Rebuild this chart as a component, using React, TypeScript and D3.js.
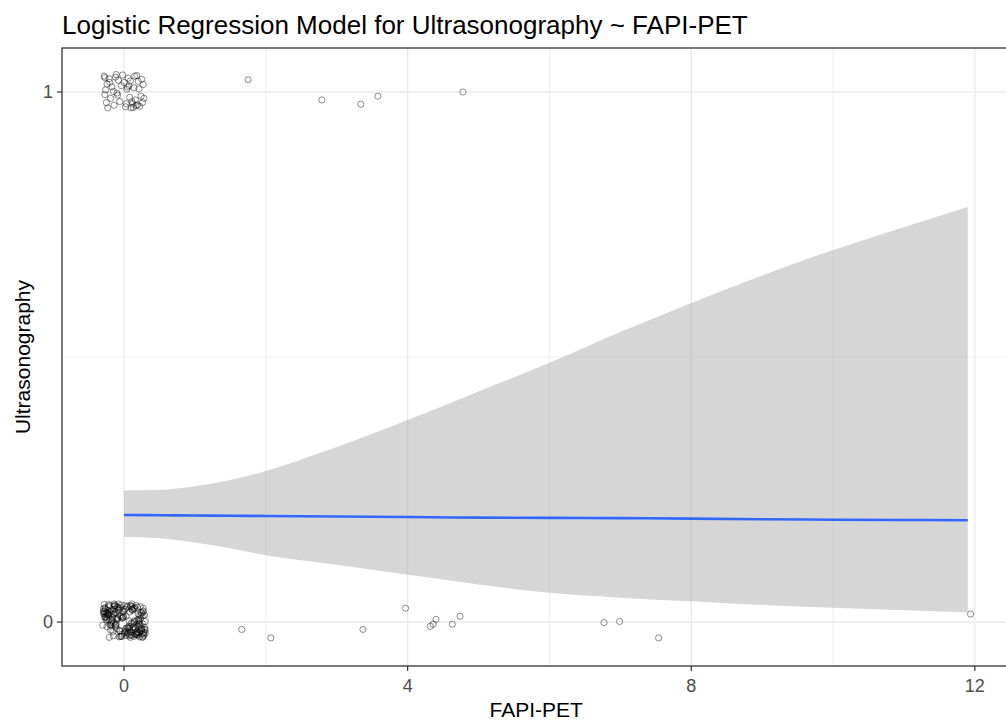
import * as d3 from "d3";
import { useEffect, useRef } from "react";

// fitted curve and 95% band
const fitX = [0, 0.5, 1, 1.5, 2, 3, 4, 5, 6, 7, 8, 9, 10, 11, 11.9];
const fitY = [0.202, 0.2015, 0.201, 0.2005, 0.2, 0.199, 0.198, 0.197, 0.1965, 0.196, 0.195, 0.194, 0.193, 0.1925, 0.192];
const bandUpper = [0.248, 0.249, 0.256, 0.268, 0.285, 0.33, 0.381, 0.435, 0.489, 0.547, 0.602, 0.654, 0.702, 0.745, 0.783];
const bandLower = [0.161, 0.158, 0.15, 0.139, 0.126, 0.108, 0.089, 0.071, 0.055, 0.046, 0.039, 0.032, 0.027, 0.022, 0.018];

// jittered points away from zero
const outX = [1.75, 2.79, 3.34, 3.58, 4.78, 1.66, 2.07, 3.37, 3.97, 4.32, 4.36, 4.4, 4.63, 4.74, 6.77, 6.99, 7.54, 11.94];
const outY = [1.023, 0.985, 0.977, 0.992, 1.0, -0.014, -0.03, -0.014, 0.026, -0.008, -0.004, 0.005, -0.004, 0.011, -0.001, 0.001, -0.03, 0.015];

// jittered cluster at FAPI-PET = 0, Ultrasonography = 1
const topX = [-0.28, -0.24, -0.27, -0.21, -0.25, -0.17, -0.23, -0.12, -0.19, -0.26,
  -0.08, -0.14, -0.04, -0.1, 0.0, -0.06, 0.04, 0.02, 0.08, -0.02,
  0.12, 0.06, 0.16, 0.1, 0.2, 0.14, 0.24, 0.18, 0.27, 0.22,
  0.11, 0.25, -0.15, 0.07, 0.19, -0.2, 0.15, 0.28, -0.09, 0.03,
  0.21, -0.27, 0.13, 0.09, -0.11, 0.26, 0.05, 0.17];
const topDy = [0.03, 0.015, -0.005, 0.025, -0.02, 0.01, -0.03, 0.028, -0.012, 0.004,
  0.022, -0.025, 0.012, -0.002, 0.018, -0.018, 0.005, -0.028, -0.01, 0.032,
  -0.022, 0.026, -0.015, -0.03, 0.02, 0.008, -0.008, 0.031, 0.014, -0.027,
  -0.018, 0.024, 0.001, 0.012, -0.024, 0.018, 0.03, -0.012, -0.006, -0.022,
  0.006, 0.027, -0.029, 0.021, 0.033, -0.02, 0.009, -0.026];

// jittered cluster at FAPI-PET = 0, Ultrasonography = 0
const botX = [-0.29, -0.12, 0.05, 0.21, -0.24, 0.14, -0.03, 0.27, -0.18, 0.09,
  0.01, -0.27, 0.18, -0.08, 0.25, -0.15, 0.11, -0.21, 0.3, -0.05,
  0.07, -0.26, 0.16, -0.1, 0.23, -0.19, 0.03, 0.28, -0.13, 0.12,
  -0.22, 0.19, -0.01, -0.28, 0.08, 0.26, -0.16, 0.15, -0.06, 0.22,
  -0.3, 0.04, -0.2, 0.17, -0.09, 0.29, -0.14, 0.1, -0.25, 0.2,
  0.0, -0.17, 0.24, -0.04, 0.13, -0.23, 0.06, 0.27, -0.11, 0.18,
  -0.27, 0.09, -0.07, 0.21, -0.2, 0.02, 0.25, -0.15, 0.14, -0.02,
  0.3, -0.24, 0.11, -0.12, 0.19, -0.29, 0.05, 0.23, -0.08, 0.16,
  -0.18, 0.26, -0.05, 0.12, -0.26, 0.08, -0.13, 0.2, -0.01, 0.28,
  -0.21, 0.15, -0.1, 0.03, 0.24, -0.16, 0.1, -0.28, 0.17, -0.06,
  0.22, -0.23, 0.07, -0.14, 0.29, -0.03, 0.13, -0.19, 0.01, 0.25,
  -0.25, 0.18, -0.09, 0.06, -0.22, 0.21, -0.04, 0.27, -0.12, 0.11,
  -0.2, 0.08, -0.27, 0.16, -0.04, 0.26, -0.13, 0.03, 0.2, -0.24,
  0.12, -0.07, 0.29, -0.17, 0.05, -0.29, 0.22, -0.1, 0.15, -0.02,
  0.27, -0.19, 0.09, -0.26, 0.18, -0.06, 0.24, -0.14, 0.0, 0.13,
  -0.23, 0.19, -0.11, 0.07, -0.28, 0.25, -0.03, 0.1, -0.16, 0.21,
  -0.08, 0.28, -0.21, 0.04, 0.17, -0.25, 0.14, -0.12, 0.23, -0.01,
  0.06, -0.18, 0.3, -0.09, 0.11, -0.22, 0.2, -0.15, 0.02, 0.26];
const botDy = [0.02, -0.01, 0.03, -0.02, 0.005, 0.025, -0.027, 0.012, -0.005, 0.031,
  -0.018, 0.008, -0.024, 0.022, -0.012, 0.015, 0.034, -0.029, 0.001, 0.027,
  -0.008, 0.018, -0.021, 0.004, 0.029, -0.015, 0.011, -0.026, 0.024, -0.003,
  0.033, -0.02, 0.009, 0.016, -0.011, -0.028, 0.021, 0.002, -0.017, 0.013,
  -0.006, 0.028, 0.019, -0.023, 0.006, -0.014, 0.03, -0.002, 0.017, -0.025,
  0.024, 0.003, -0.016, 0.032, -0.009, 0.014, -0.022, 0.026, 0.007, -0.019,
  0.01, -0.029, 0.023, -0.004, 0.031, -0.013, 0.017, -0.026, 0.0, 0.02,
  -0.021, 0.013, 0.029, -0.007, -0.018, 0.025, -0.011, 0.006, 0.034, -0.024,
  0.016, -0.003, -0.027, 0.022, 0.011, -0.015, 0.03, -0.009, 0.019, -0.02,
  0.004, 0.027, -0.013, -0.025, 0.018, 0.008, -0.019, 0.033, -0.006, 0.012,
  -0.028, 0.021, 0.002, 0.015, -0.01, -0.023, 0.026, -0.001, 0.031, -0.016,
  0.009, -0.022, 0.028, -0.012, 0.014, 0.003, -0.027, 0.019, -0.005, 0.024,
  -0.005, 0.019, 0.027, -0.012, 0.01, -0.022, 0.032, -0.017, 0.005, -0.009,
  0.023, -0.028, 0.013, 0.001, -0.02, 0.016, -0.003, 0.029, -0.014, 0.008,
  0.021, -0.007, -0.024, 0.025, 0.003, -0.016, 0.012, 0.034, -0.021, -0.01,
  0.017, 0.028, -0.004, -0.026, 0.02, -0.013, 0.007, 0.03, -0.018, 0.0,
  0.026, -0.023, 0.014, -0.011, 0.031, 0.004, -0.027, 0.018, -0.008, 0.011,
  -0.019, 0.022, -0.015, 0.009, -0.025, 0.029, 0.015, -0.002, 0.024, -0.029];

const xMajor = [0, 4, 8, 12];
const xMinor = [2, 6, 10];
const yMajor = [0, 1];
const yMinor = [0.5];

const WIDTH = 1006;
const HEIGHT = 725;
const FONT = "'Liberation Sans', Arial, sans-serif";

export default function App() {
  const svgRef = useRef<SVGSVGElement | null>(null);

  useEffect(() => {
    const svg = d3.select(svgRef.current);
    svg.selectAll("*").remove();

    const x = d3.scaleLinear().domain([-0.875, 12.5]).range([62, 1010.3]);
    const y = d3.scaleLinear().domain([-0.083, 1.083]).range([666, 48]);
    const [left, right] = x.range();
    const [bottom, top] = y.range();

    svg.append("rect").attr("width", WIDTH).attr("height", HEIGHT).attr("fill", "#fff");

    const grid = svg.append("g");
    grid.selectAll(".vmin").data(xMinor).join("line")
      .attr("x1", (d) => x(d)).attr("x2", (d) => x(d)).attr("y1", top).attr("y2", bottom)
      .attr("stroke", "#EBEBEB").attr("stroke-width", 0.8);
    grid.selectAll(".hmin").data(yMinor).join("line")
      .attr("y1", (d) => y(d)).attr("y2", (d) => y(d)).attr("x1", left).attr("x2", right)
      .attr("stroke", "#EBEBEB").attr("stroke-width", 0.8);
    grid.selectAll(".vmaj").data(xMajor).join("line")
      .attr("x1", (d) => x(d)).attr("x2", (d) => x(d)).attr("y1", top).attr("y2", bottom)
      .attr("stroke", "#EBEBEB").attr("stroke-width", 1.4);
    grid.selectAll(".hmaj").data(yMajor).join("line")
      .attr("y1", (d) => y(d)).attr("y2", (d) => y(d)).attr("x1", left).attr("x2", right)
      .attr("stroke", "#EBEBEB").attr("stroke-width", 1.4);

    const pts: [number, number][] = [
      ...topX.map((v, i) => [v, 1 + topDy[i]] as [number, number]),
      ...botX.map((v, i) => [v, 0 + botDy[i]] as [number, number]),
      ...outX.map((v, i) => [v, outY[i]] as [number, number]),
    ];
    svg.append("g").selectAll("circle").data(pts).join("circle")
      .attr("cx", (d) => x(d[0])).attr("cy", (d) => y(d[1])).attr("r", 3.1)
      .attr("fill", "none").attr("stroke", "#000").attr("stroke-opacity", 0.45)
      .attr("stroke-width", 1);

    const area = d3.area<number>()
      .x((d) => x(d))
      .y0((_, i) => y(bandLower[i]))
      .y1((_, i) => y(bandUpper[i]))
      .curve(d3.curveMonotoneX);
    svg.append("path").attr("d", area(fitX)).attr("fill", "#999999").attr("fill-opacity", 0.4);

    const line = d3.line<number>()
      .x((d) => x(d))
      .y((_, i) => y(fitY[i]))
      .curve(d3.curveMonotoneX);
    svg.append("path").attr("d", line(fitX)).attr("fill", "none")
      .attr("stroke", "#3366FF").attr("stroke-width", 2.6);

    svg.append("rect").attr("x", left).attr("y", top)
      .attr("width", right - left).attr("height", bottom - top)
      .attr("fill", "none").attr("stroke", "#333333").attr("stroke-width", 1.3);

    const xAxis = svg.append("g");
    xAxis.selectAll("line").data(xMajor).join("line")
      .attr("x1", (d) => x(d)).attr("x2", (d) => x(d)).attr("y1", bottom).attr("y2", bottom + 5)
      .attr("stroke", "#333333").attr("stroke-width", 1.2);
    xAxis.selectAll("text").data(xMajor).join("text")
      .attr("x", (d) => x(d)).attr("y", bottom + 26).attr("text-anchor", "middle")
      .attr("font-family", FONT).attr("font-size", 18).attr("fill", "#4D4D4D")
      .text((d) => d3.format("d")(d));

    const yAxis = svg.append("g");
    yAxis.selectAll("line").data(yMajor).join("line")
      .attr("y1", (d) => y(d)).attr("y2", (d) => y(d)).attr("x1", left - 5).attr("x2", left)
      .attr("stroke", "#333333").attr("stroke-width", 1.2);
    yAxis.selectAll("text").data(yMajor).join("text")
      .attr("x", left - 9).attr("y", (d) => y(d)).attr("dy", "0.35em").attr("text-anchor", "end")
      .attr("font-family", FONT).attr("font-size", 18).attr("fill", "#4D4D4D")
      .text((d) => d3.format("d")(d));

    svg.append("text").attr("x", (62 + 1010.3) / 2).attr("y", 717).attr("text-anchor", "middle")
      .attr("font-family", FONT).attr("font-size", 21).attr("fill", "#000").text("FAPI-PET");

    svg.append("text").attr("transform", `translate(30, ${(top + bottom) / 2}) rotate(-90)`)
      .attr("text-anchor", "middle")
      .attr("font-family", FONT).attr("font-size", 21).attr("fill", "#000").text("Ultrasonography");

    svg.append("text").attr("x", 62).attr("y", 34)
      .attr("font-family", FONT).attr("font-size", 26).attr("fill", "#000")
      .text("Logistic Regression Model for Ultrasonography ~ FAPI-PET");
  }, []);

  return (
    <svg
      ref={svgRef}
      width={WIDTH}
      height={HEIGHT}
      style={{ position: "absolute", left: 0, top: 0, display: "block" }}
    />
  );
}
